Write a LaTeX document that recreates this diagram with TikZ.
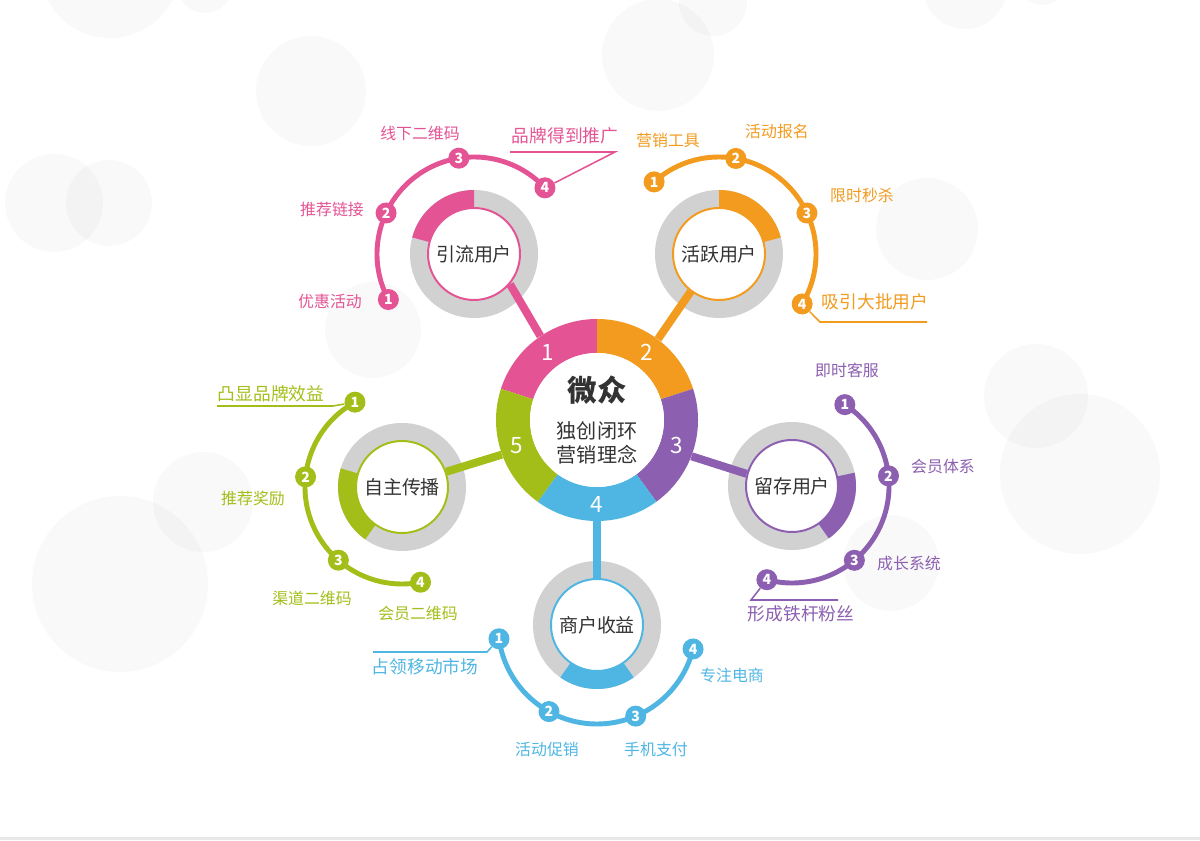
\documentclass[tikz,border=0pt]{standalone}
\usepackage{fontspec}
\setmainfont{Noto Sans CJK SC}
\usetikzlibrary{calc}
\pgfdeclarelayer{bg}
\pgfsetlayers{bg,main}
\definecolor{cpink}{HTML}{E45495}
\definecolor{corange}{HTML}{F29B1F}
\definecolor{cpurple}{HTML}{8D5FB0}
\definecolor{cblue}{HTML}{4FB6E3}
\definecolor{cgreen}{HTML}{A4BE19}
\definecolor{ringgray}{HTML}{D1D1D1}
\definecolor{textc}{HTML}{333333}
\newcommand\ringseg[6]{%
  \fill[#6] ($(#1)+(#4:#3)$) arc[start angle=#4,end angle=#5,radius=#3]
    -- ($(#1)+(#5:#2)$) arc[start angle=#5,end angle=#4,radius=#2] -- cycle;}
\begin{document}
\begin{tikzpicture}[x=0.025cm,y=0.025cm,
  bgc/.style={fill=black,fill opacity=0.022},
  hub/.style={circle,fill=white,minimum size=134*0.025cm,inner sep=0pt,align=center,text=textc,font=\fontsize{14.3}{17}\selectfont},
  ringnode/.style={circle,minimum size=202*0.025cm,inner sep=0pt},
  sat/.style={circle,fill=white,draw=#1,line width=1.4pt,minimum size=92*0.025cm,inner sep=0pt,font=\fontsize{13.5}{16}\selectfont,text=textc},
  numdot/.style={circle,fill=#1,minimum size=21*0.025cm,inner sep=0pt,text=white,font=\fontsize{10}{10}\selectfont\bfseries},
  lab/.style={text=#1,font=\fontsize{11.3}{13}\selectfont,inner sep=0pt},
  biglab/.style={text=#1,font=\fontsize{12.6}{15}\selectfont,inner sep=0pt},
  arcline/.style={draw=#1,line width=3.5pt},
  conn/.style={draw=#1,line width=5.7pt},
  uline/.style={draw=#1,line width=1.1pt},
  ringnum/.style={text=white,font=\fontsize{16}{18}\selectfont,inner sep=0pt},
]
\useasboundingbox (0,0) rectangle (1200,840);
% centres
\coordinate (M) at (597,420);
\coordinate (C1) at (474,586);
\coordinate (C2) at (719,586);
\coordinate (C3) at (792,354);
\coordinate (C4) at (597,215);
\coordinate (C5) at (402,353);
% nodes
\node[ringnode] (ring) at (M) {};
\node[hub] (hub) at (M) {{\fontsize{21}{21}\selectfont\bfseries 微众}\\[9pt]独创闭环\\营销理念};
\node[sat=cpink] (s1) at (C1) {引流用户};
\node[sat=corange] (s2) at (C2) {活跃用户};
\node[sat=cpurple] (s3) at (C3) {留存用户};
\node[sat=cblue] (s4) at (C4) {商户收益};
\node[sat=cgreen] (s5) at (C5) {自主传播};

\begin{pgfonlayer}{bg}
\clip (0,0) rectangle (1200,840);
\fill[white] (0,0) rectangle (1200,840);
\foreach \x/\y/\r in {110/872/70, 205/855/28, 311/749/55, 658/785/56, 713/838/34, 965/853/42, 1042/860/25, 54/637/49, 109/637/43, 927/611/51, 373/510/48, 1036/444/52, 1080/366/80, 891/277/48, 120/256/88, 203/338/50}
  \fill[bgc] (\x,\y) circle[radius=\r];
\fill[black!9] (0,0) rectangle (1200,3);
% satellite rings
\foreach \c in {C1,C2,C3,C4,C5} \fill[ringgray] (\c) circle[radius=64];
\ringseg{C1}{46}{64}{90}{165}{cpink}
\ringseg{C2}{46}{64}{15}{90}{corange}
\ringseg{C3}{46}{64}{-55}{12}{cpurple}
\ringseg{C4}{46}{64}{-125}{-55}{cblue}
\ringseg{C5}{46}{64}{163}{235}{cgreen}
% main ring
\ringseg{M}{67}{101}{90}{162}{cpink}
\ringseg{M}{67}{101}{18}{90}{corange}
\ringseg{M}{67}{101}{-54}{18}{cpurple}
\ringseg{M}{67}{101}{-126}{-54}{cblue}
\ringseg{M}{67}{101}{162}{234}{cgreen}
% connectors
\draw[conn=cpink] (s1.-40) -- (ring.124);
\draw[conn=corange] (s2.-127) -- (ring.53);
\draw[conn=cpurple] (s3.165) -- (ring.-21);
\draw[conn=cblue] (s4.90) -- (ring.-90);
\draw[conn=cgreen] (s5.19) -- (ring.200);
\end{pgfonlayer}

% numbers on main ring
\node[ringnum] (n1) at ($(M)+(126:84)$) {1};
\node[ringnum] (n2) at ($(M)+(54:84)$) {2};
\node[ringnum] (n3) at ($(M)+(-18:84)$) {3};
\node[ringnum] (n4) at ($(M)+(-90:84)$) {4};
\node[ringnum] (n5) at ($(M)+(198:84)$) {5};

% arcs
\draw[arcline=cpink] ($(C1)+(208:97)$) arc[start angle=208,end angle=43,radius=97];
\draw[arcline=corange] ($(C2)+(132:97)$) arc[start angle=132,end angle=-31,radius=97];
\draw[arcline=cpurple] ($(C3)+(57:97)$) arc[start angle=57,end angle=-105,radius=97];
\draw[arcline=cblue] ($(C4)+(188:99)$) arc[start angle=188,end angle=346,radius=99];
\draw[arcline=cgreen] ($(C5)+(119:97)$) arc[start angle=119,end angle=281,radius=97];

% dots
\node[numdot=cpink] (d11) at ($(C1)+(208:97)$) {1};
\node[numdot=cpink] (d12) at ($(C1)+(155:97)$) {2};
\node[numdot=cpink] (d13) at ($(C1)+(99:97)$) {3};
\node[numdot=cpink] (d14) at ($(C1)+(43:97)$) {4};
\node[numdot=corange] (d21) at ($(C2)+(132:97)$) {1};
\node[numdot=corange] (d22) at ($(C2)+(80:97)$) {2};
\node[numdot=corange] (d23) at ($(C2)+(25:97)$) {3};
\node[numdot=corange] (d24) at ($(C2)+(-31:97)$) {4};
\node[numdot=cpurple] (d31) at ($(C3)+(57:97)$) {1};
\node[numdot=cpurple] (d32) at ($(C3)+(6:97)$) {2};
\node[numdot=cpurple] (d33) at ($(C3)+(-50:97)$) {3};
\node[numdot=cpurple] (d34) at ($(C3)+(-105:97)$) {4};
\node[numdot=cblue] (d41) at ($(C4)+(188:99)$) {1};
\node[numdot=cblue] (d42) at ($(C4)+(241:99)$) {2};
\node[numdot=cblue] (d43) at ($(C4)+(293:99)$) {3};
\node[numdot=cblue] (d44) at ($(C4)+(346:99)$) {4};
\node[numdot=cgreen] (d51) at ($(C5)+(119:97)$) {1};
\node[numdot=cgreen] (d52) at ($(C5)+(174:97)$) {2};
\node[numdot=cgreen] (d53) at ($(C5)+(229:97)$) {3};
\node[numdot=cgreen] (d54) at ($(C5)+(281:97)$) {4};

% labels: pink
\node[lab=cpink] (l11) at (330,539) {优惠活动};
\node[lab=cpink] (l12) at (332,631) {推荐链接};
\node[lab=cpink] (l13) at (420,707) {线下二维码};
\node[biglab=cpink] (l14) at (565,704) {品牌得到推广};
\coordinate (u1a) at (615,688);
\coordinate (u1b) at (510,688);
\draw[uline=cpink] (d14) -- (u1a) -- (u1b);
% orange
\node[lab=corange] (l21) at (668,700) {营销工具};
\node[lab=corange] (l22) at (777,709) {活动报名};
\node[lab=corange] (l23) at (862,645) {限时秒杀};
\node[biglab=corange] (l24) at (875,538) {吸引大批用户};
\coordinate (u2a) at (820,518);
\coordinate (u2b) at (927,518);
\draw[uline=corange] (d24) -- (u2a) -- (u2b);
% purple
\node[lab=cpurple] (l31) at (847,470) {即时客服};
\node[lab=cpurple] (l32) at (943,374) {会员体系};
\node[lab=cpurple] (l33) at (909,277) {成长系统};
\node[biglab=cpurple] (l34) at (801,226) {形成铁杆粉丝};
\coordinate (u3a) at (751,240);
\coordinate (u3b) at (838,240);
\draw[uline=cpurple] (d34) -- (u3a) -- (u3b);
% blue
\node[biglab=cblue] (l41) at (425,173) {占领移动市场};
\node[lab=cblue] (l42) at (547,91) {活动促销};
\node[lab=cblue] (l43) at (656,91) {手机支付};
\node[lab=cblue] (l44) at (732,165) {专注电商};
\coordinate (u4a) at (487,188);
\coordinate (u4b) at (373,188);
\draw[uline=cblue] (d41) -- (u4a) -- (u4b);
% green
\node[biglab=cgreen] (l51) at (271,446) {凸显品牌效益};
\node[lab=cgreen] (l52) at (253,342) {推荐奖励};
\node[lab=cgreen] (l53) at (312,242) {渠道二维码};
\node[lab=cgreen] (l54) at (418,227) {会员二维码};
\coordinate (u5a) at (333,434);
\coordinate (u5b) at (217,434);
\draw[uline=cgreen] (d51) -- (u5a) -- (u5b);
\end{tikzpicture}
\end{document}
